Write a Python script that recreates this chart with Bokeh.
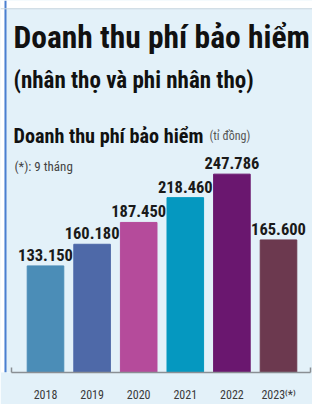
from bokeh.plotting import figure
from bokeh.models import ColumnDataSource, LabelSet, Label, FixedTicker, Range1d, Span, BoxAnnotation
from bokeh.core.properties import value
from bokeh.embed import file_html
from bokeh.resources import INLINE

# ---- data ----
years = ["2018", "2019", "2020", "2021", "2022", "2023⁽*⁾"]
revenue = [133150, 160180, 187450, 218460, 247786, 165600]  # tỉ đồng
colors = ["#4b8db7", "#4e69a8", "#b54b9b", "#0598c0", "#6a176f", "#6c394f"]

title = "Doanh thu phí bảo hiểm"
subtitle = "(nhân thọ và phi nhân thọ)"
chart_title = "Doanh thu phí bảo hiểm"
unit = "(tỉ đồng)"
note = "(*): 9 tháng"

NARROW = "'Roboto Condensed', 'DejaVu Sans Condensed', Roboto"
BG = "#e3f1f9"

W, H = 312, 404
BOTTOM = 22
frame_h = H - BOTTOM
px_per_unit = 0.822 / 1000.0
y_end = frame_h / px_per_unit
pitch = 46.6
x_start = -45 / pitch
x_end = x_start + W / pitch

def dx(page_x):
    return x_start + page_x / pitch

def dy(page_y):
    return (frame_h - page_y) / px_per_unit

xs = list(range(len(years)))
src = ColumnDataSource(dict(
    x=xs, value=revenue, color=colors,
    label=[f"{v:,}".replace(",", ".") for v in revenue],
))

p = figure(width=W, height=H, output_backend="svg", toolbar_location=None,
           x_range=Range1d(x_start, x_end), y_range=Range1d(0, y_end),
           y_axis_location=None, min_border_left=0, min_border_right=0,
           min_border_top=0, min_border_bottom=BOTTOM)
p.background_fill_color = BG
p.border_fill_color = BG
p.outline_line_color = None
p.grid.visible = False

# white page edge (left and top) with the panel border
p.add_layout(BoxAnnotation(right=dx(4), fill_color="white", fill_alpha=1, line_color=None))
p.add_layout(BoxAnnotation(bottom=dy(8), fill_color="white", fill_alpha=1, line_color=None))
p.add_layout(Span(location=dx(5), dimension="height", line_color="#4a7fd0", line_width=2))
p.add_layout(Span(location=dy(8.5), dimension="width", line_color="#c9d6df", line_width=1))

p.vbar(x="x", top="value", width=0.785, color="color", source=src)

p.add_layout(LabelSet(x="x", y="value", text="label", source=src, y_offset=5,
                      text_align="center", text_baseline="alphabetic",
                      text_font=value(NARROW), text_font_style="bold",
                      text_font_size="16.5px", text_color="#1a1a1a"))

ax = p.xaxis[0]
ax.ticker = FixedTicker(ticks=xs, minor_ticks=[dx(11), dx(310)])
ax.major_label_overrides = {i: y for i, y in zip(xs, years)}
ax.bounds = (dx(11), dx(310))
ax.axis_line_color = "#8a8f94"
ax.axis_line_width = 1.5
ax.major_tick_line_color = None
ax.minor_tick_in = 5
ax.minor_tick_out = 0
ax.minor_tick_line_color = "#8a8f94"
ax.minor_tick_line_width = 1.5
ax.major_label_standoff = 9
ax.major_label_text_font = NARROW
ax.major_label_text_font_size = "12px"
ax.major_label_text_color = "#3a3a3a"

def lab(txt, px, py, size, bold=True, color="#111111"):
    p.add_layout(Label(x=dx(px), y=dy(py), text=txt, text_font=NARROW,
                       text_font_size=size, text_font_style="bold" if bold else "normal",
                       text_color=color, text_baseline="alphabetic", text_align="left"))

lab(title, 13, 38.5, "31.5px")
lab(subtitle, 13, 82.5, "23px")
lab(chart_title, 13, 139.5, "20.2px")
lab(unit, 209, 139.5, "12px", bold=False, color="#555555")
lab(note, 14, 170, "13px", bold=False, color="#444444")

open("out.html", "w").write(file_html(p, INLINE))
